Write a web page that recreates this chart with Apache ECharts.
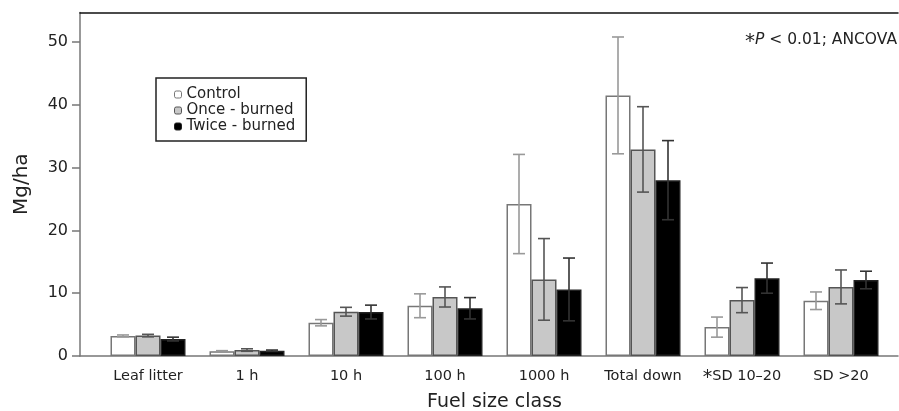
<!DOCTYPE html>
<html lang="en">

<head>
    <meta charset="UTF-8">
    <title>Fuel load by size class</title>
    <style>
        html, body { margin: 0; padding: 0; background: #fff; }
        #chart { width: 899px; height: 411px; }
    </style>
</head>

<body>
    <div id="chart"></div>
</body>
<script type="text/javascript" src="https://cdn.jsdelivr.net/npm/echarts@6/dist/echarts.min.js"></script>
<script type="text/javascript">
    // categories (x) and y ticks
    var categories = ['Leaf litter', '1 h', '10 h', '100 h', '1000 h', 'Total down', 'SD 10–20', 'SD >20']
    var starred = [6]
    var yTicks = [0, 10, 20, 30, 40, 50]

    // means and error bars (Mg/ha)
    var control = [3.2, 0.75, 5.3, 8.0, 24.2, 41.5, 4.6, 8.8]
    var controlErr = [0.15, 0.1, 0.5, 1.9, 7.9, 9.3, 1.6, 1.4]
    var once = [3.25, 0.95, 7.05, 9.4, 12.2, 32.9, 8.9, 11.0]
    var onceErr = [0.2, 0.2, 0.7, 1.6, 6.5, 6.8, 2.0, 2.7]
    var twice = [2.7, 0.85, 7.0, 7.6, 10.6, 28.0, 12.4, 12.1]
    var twiceErr = [0.3, 0.1, 1.1, 1.7, 5.0, 6.3, 2.4, 1.4]

    var FONT = 'DejaVu Sans'
    var TXT = '#222'
    var BAR_W = 25
    var Y_MAX = 54.7

    // error bar series, offset to sit over its bar in the group
    function errSeries(name, means, errs, offset, color) {
        var rows = means.map(function (m, i) { return [i, m, errs[i]] })
        return {
            name: name + ' err',
            type: 'custom',
            xAxisIndex: 2,
            yAxisIndex: 1,
            z: 5,
            silent: true,
            data: rows,
            renderItem: function (params, api) {
                var i = api.value(0)
                var m = api.value(1)
                var e = api.value(2)
                var hi = api.coord([i, m + e])
                var lo = api.coord([i, m - e])
                var x = hi[0] + offset
                var st = { stroke: color, lineWidth: 1.6 }
                return {
                    type: 'group',
                    children: [
                        { type: 'line', shape: { x1: x, y1: hi[1], x2: x, y2: lo[1] }, style: st },
                        { type: 'line', shape: { x1: x - 6, y1: hi[1], x2: x + 6, y2: hi[1] }, style: st },
                        { type: 'line', shape: { x1: x - 6, y1: lo[1], x2: x + 6, y2: lo[1] }, style: st }
                    ]
                }
            }
        }
    }

    function barSeries(name, data, fill, border) {
        return {
            name: name,
            type: 'bar',
            xAxisIndex: 2,
            yAxisIndex: 1,
            barWidth: BAR_W,
            barGap: '0%',
            data: data,
            itemStyle: { color: fill, borderColor: border, borderWidth: 1.5 },
            emphasis: { disabled: true }
        }
    }

    var option = {
        animation: false,
        textStyle: { fontFamily: FONT, color: TXT },
        grid: [
            { left: 80, right: 1, top: 12.5, bottom: 55, outerBoundsMode: 'none' },
            { left: 98.5, right: 8.5, top: 12.5, bottom: 55, outerBoundsMode: 'none' }
        ],
        xAxis: [
            //底部轴线
            {
                gridIndex: 0, type: 'value', min: 0, max: 1, position: 'bottom',
                axisLine: { lineStyle: { color: '#777', width: 1.5 } },
                axisTick: { show: false }, axisLabel: { show: false }, splitLine: { show: false }
            },
            //顶部边框
            {
                gridIndex: 0, type: 'value', min: 0, max: 1, position: 'top',
                axisLine: { lineStyle: { color: '#111', width: 1.5 } },
                axisTick: { show: false }, axisLabel: { show: false }, splitLine: { show: false }
            },
            {
                gridIndex: 1, type: 'category', data: categories,
                axisLine: { show: false }, axisTick: { show: false },
                axisLabel: {
                    fontFamily: FONT, fontSize: 14.5, color: TXT, margin: 13, interval: 0,
                    formatter: function (v, i) {
                        return starred.indexOf(i) >= 0 ? '{s|*}' + v : v
                    },
                    rich: { s: { fontFamily: FONT, fontSize: 19, lineHeight: 14, verticalAlign: 'top', color: TXT } }
                },
                name: 'Fuel size class', nameLocation: 'middle', nameGap: 31,
                nameTextStyle: { fontFamily: FONT, fontSize: 19, color: TXT }
            }
        ],
        yAxis: [
            {
                gridIndex: 0, type: 'value', min: 0, max: Y_MAX, interval: 10,
                axisLine: { show: true, lineStyle: { color: '#777', width: 1.5 } },
                axisTick: { show: true, length: 8, customValues: yTicks, lineStyle: { color: '#777', width: 1.5 } },
                axisLabel: { fontFamily: FONT, fontSize: 16, color: TXT, margin: 12, customValues: yTicks },
                splitLine: { show: false },
                name: 'Mg/ha', nameLocation: 'middle', nameGap: 48,
                nameTextStyle: { fontFamily: FONT, fontSize: 20, color: TXT }
            },
            { gridIndex: 1, type: 'value', min: 0, max: Y_MAX, show: false }
        ],
        legend: {
            orient: 'vertical',
            left: 156, top: 78,
            padding: [9, 11, 7, 18],
            borderColor: '#222', borderWidth: 1.5,
            itemWidth: 7, itemHeight: 7, itemGap: 1,
            data: ['Control', 'Once-burned', 'Twice-burned'],
            formatter: function (n) { return n.replace('-', ' - ') },
            textStyle: { fontFamily: FONT, fontSize: 15, color: TXT, lineHeight: 15 },
            itemStyle: { borderWidth: 1 }
        },
        graphic: [{
            type: 'text',
            right: 2, top: 32,
            style: {
                text: '{s|*}{i|P} < 0.01; ANCOVA',
                fontFamily: FONT, fontSize: 15.5, fill: TXT,
                rich: {
                    s: { fontFamily: FONT, fontSize: 20, lineHeight: 15, verticalAlign: 'top' },
                    i: { fontFamily: FONT, fontSize: 15.5, fontStyle: 'italic' }
                }
            }
        }],
        series: [
            barSeries('Control', control, '#fff', '#777'),
            barSeries('Once-burned', once, '#c8c8c8', '#555'),
            barSeries('Twice-burned', twice, '#000', '#222'),
            errSeries('Control', control, controlErr, -BAR_W, '#999'),
            errSeries('Once-burned', once, onceErr, 0, '#555'),
            errSeries('Twice-burned', twice, twiceErr, BAR_W, '#333')
        ]
    }

    var myChart = echarts.init(document.getElementById('chart'))
    myChart.setOption(option)
    window.onresize = function () {
        myChart.resize()
    }
</script>

</html>
